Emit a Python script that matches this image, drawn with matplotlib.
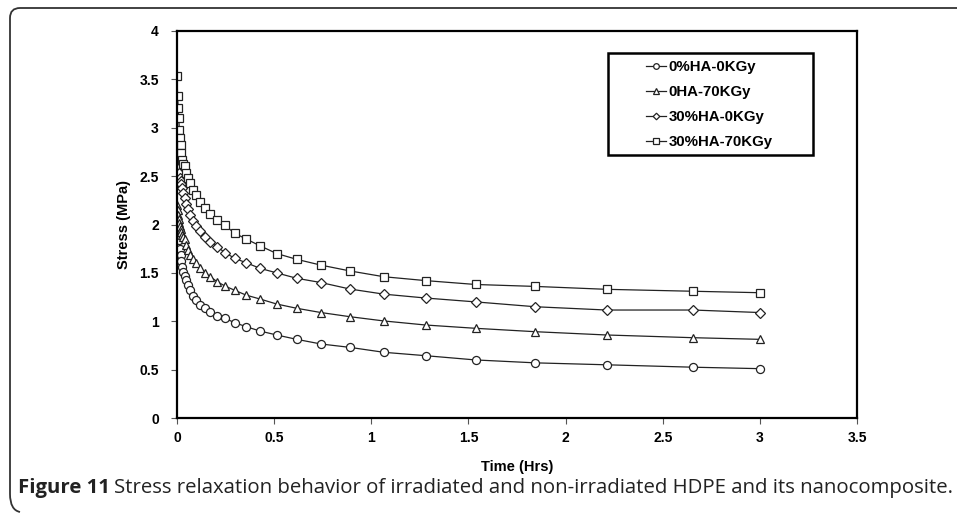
import matplotlib
matplotlib.use("Agg")
import matplotlib.pyplot as plt
from matplotlib.path import Path
from matplotlib.patches import PathPatch, Rectangle

# ---- data ----
time_hrs = [0.0, 0.003, 0.006, 0.009, 0.012, 0.015, 0.019, 0.023, 0.028, 0.033,
            0.040, 0.048, 0.057, 0.069, 0.083, 0.099, 0.119, 0.143, 0.172, 0.206,
            0.247, 0.297, 0.356, 0.427, 0.513, 0.616, 0.741, 0.890, 1.065, 1.28,
            1.537, 1.844, 2.211, 2.656, 3.0]

s_0ha_0kgy = [2.05, 2.00, 1.95, 1.90, 1.84, 1.75, 1.685, 1.62, 1.56, 1.51,
              1.47, 1.43, 1.375, 1.32, 1.26, 1.22, 1.168, 1.134, 1.10, 1.057,
              1.03, 0.985, 0.944, 0.899, 0.858, 0.813, 0.765, 0.73, 0.679, 0.644,
              0.60, 0.57, 0.55, 0.525, 0.51]

s_0ha_70kgy = [2.20, 2.15, 2.10, 2.06, 2.02, 1.98, 1.95, 1.92, 1.89, 1.87,
               1.85, 1.79, 1.74, 1.685, 1.64, 1.60, 1.547, 1.50, 1.46, 1.41,
               1.364, 1.32, 1.27, 1.23, 1.178, 1.134, 1.09, 1.047, 1.003, 0.961,
               0.927, 0.892, 0.858, 0.83, 0.813]

s_30ha_0kgy = [2.72, 2.67, 2.62, 2.58, 2.53, 2.48, 2.45, 2.42, 2.38, 2.33,
               2.27, 2.21, 2.16, 2.10, 2.04, 1.98, 1.93, 1.87, 1.82, 1.77,
               1.71, 1.65, 1.605, 1.547, 1.50, 1.444, 1.40, 1.333, 1.28, 1.24,
               1.20, 1.15, 1.116, 1.116, 1.09]

s_30ha_70kgy = [3.53, 3.33, 3.20, 3.10, 2.98, 2.89, 2.82, 2.74, 2.67, 2.63,
                2.60, 2.53, 2.48, 2.43, 2.36, 2.30, 2.23, 2.17, 2.11, 2.05,
                1.99, 1.91, 1.85, 1.78, 1.70, 1.64, 1.58, 1.52, 1.46, 1.42,
                1.38, 1.36, 1.33, 1.31, 1.295]

labels = ["0%HA-0KGy", "0HA-70KGy", "30%HA-0KGy", "30%HA-70KGy"]
markers = ["o", "^", "D", "s"]
msizes = [5.8, 5.8, 4.8, 5.8]

W, H = 957, 514
fig = plt.figure(figsize=(W / 100, H / 100), dpi=100)
plt.rcParams['font.family'] = ['Liberation Sans', 'DejaVu Sans']

ax = fig.add_axes([177 / W, 1 - 418 / H, (857 - 177) / W, (418 - 31) / H])

series = [s_0ha_0kgy, s_0ha_70kgy, s_30ha_0kgy, s_30ha_70kgy]
for ys, lab, mk, ms in zip(series, labels, markers, msizes):
    ax.plot(time_hrs, ys, color='#222222', lw=0.9, marker=mk, ms=ms,
            mfc='white', mec='#222222', mew=0.9, label=lab)

ax.set_xlim(0, 3.5)
ax.set_ylim(0, 4)
ax.set_xticks([0, 0.5, 1, 1.5, 2, 2.5, 3, 3.5])
ax.set_xticklabels(["0", "0.5", "1", "1.5", "2", "2.5", "3", "3.5"])
ax.set_yticks([0, 0.5, 1, 1.5, 2, 2.5, 3, 3.5, 4])
ax.set_yticklabels(["0", "0.5", "1", "1.5", "2", "2.5", "3", "3.5", "4"])
for lab in ax.get_xticklabels() + ax.get_yticklabels():
    lab.set_fontweight('bold')
    lab.set_fontsize(10)
ax.tick_params(axis='x', direction='out', length=4, width=0.8, color='#555555', pad=5)
ax.tick_params(axis='y', direction='out', length=4, width=0.8, color='#555555', pad=9)
for sp in ax.spines.values():
    sp.set_linewidth(1.6)
    sp.set_color('black')

ax.set_xlabel("Time (Hrs)", fontsize=10.5, fontweight='bold', labelpad=11)
ax.set_ylabel("Stress (MPa)", fontsize=10.5, fontweight='bold', labelpad=6)

# legend frame drawn separately to match the wide box of the reference
fig.patches.append(Rectangle((608 / W, 1 - 155 / H), (813 - 608) / W, (155 - 53) / H,
                             transform=fig.transFigure, fill=False,
                             edgecolor='black', lw=1.8))
leg = fig.legend(loc='upper left', bbox_to_anchor=(646 / W, 1 - 60 / H),
                 frameon=False, prop={'weight': 'bold', 'size': 10.8},
                 handlelength=1.35, handletextpad=0.15, borderpad=0.0,
                 labelspacing=0.74, borderaxespad=0, markerscale=0.7)

# ---- outer rounded frame (left + top) ----
r = 10
verts = [(W + 2, H - 8), (10 + r, H - 8), (10, H - 8), (10, H - 8 - r),
         (10, 10 + r), (10, 4), (10 + r, 2)]
codes = [Path.MOVETO, Path.LINETO, Path.CURVE3, Path.CURVE3,
         Path.LINETO, Path.CURVE3, Path.CURVE3]
verts_fig = [(x / W, y / H) for x, y in verts]
patch = PathPatch(Path(verts_fig, codes), transform=fig.transFigure,
                  fill=False, edgecolor='#333333', lw=1.3)
fig.patches.append(patch)

# ---- caption ----
cap_fs = 14.7
t1 = fig.text(18 / W, 1 - 488 / H, "Figure 11", fontsize=cap_fs, fontweight='bold',
              family=['Open Sans', 'DejaVu Sans'], va='center', ha='left', color='#222222')
fig.canvas.draw()
bb = t1.get_window_extent()
fig.text((bb.x1 + 4) / W, 1 - 488 / H,
         "Stress relaxation behavior of irradiated and non-irradiated HDPE and its nanocomposite.",
         fontsize=cap_fs, family=['Open Sans', 'DejaVu Sans'], va='center', ha='left',
         color='#222222')

fig.savefig("out.png", dpi=100)
